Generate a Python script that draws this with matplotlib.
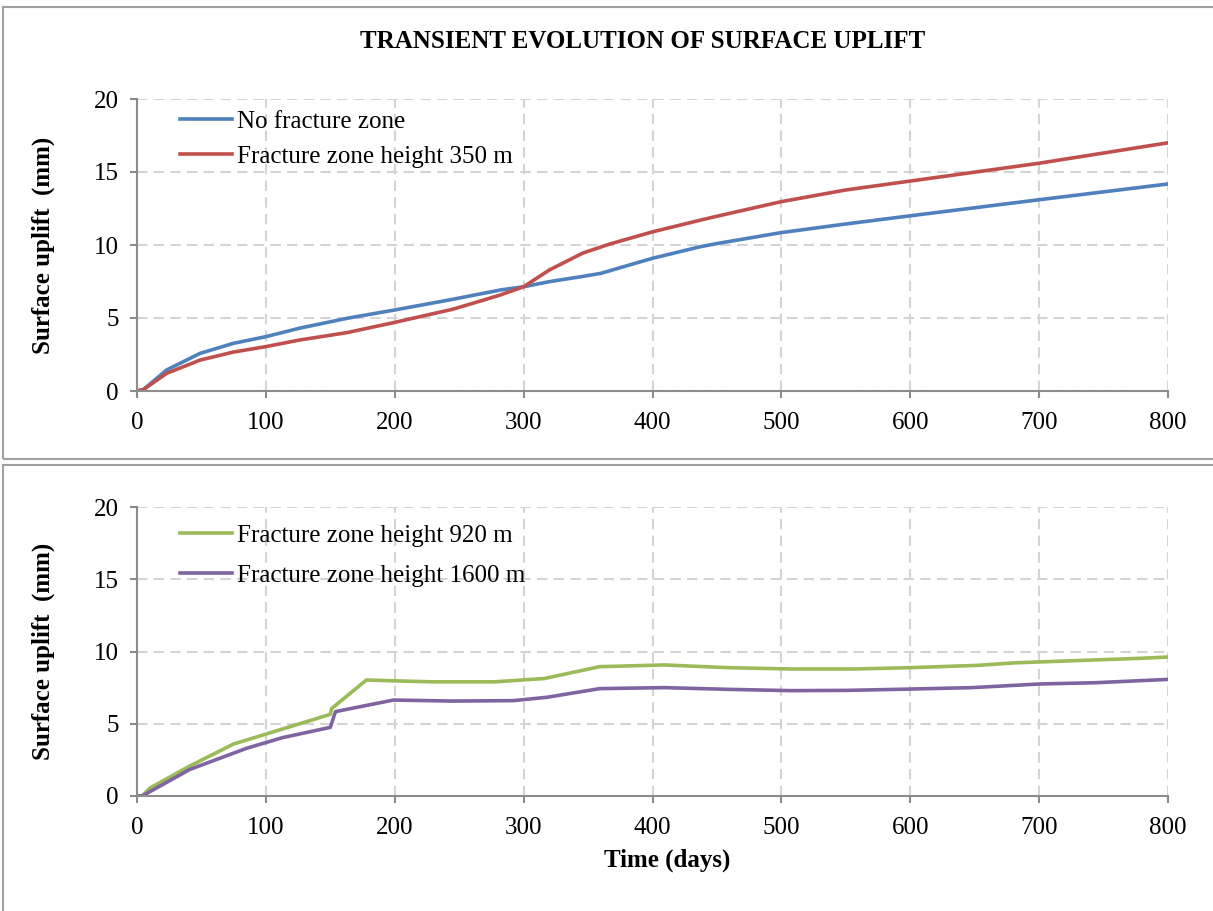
import matplotlib.pyplot as plt
from matplotlib.patches import Rectangle

plt.rcParams['font.family'] = ['Liberation Serif', 'DejaVu Serif']

# Surface uplift (mm) vs time (days)
days_none = [0, 5, 23, 49, 75, 100, 126, 163, 200, 245, 282, 300, 320, 346, 360, 377,
             400, 437, 450, 500, 550, 600, 700, 800]
uplift_none = [0, 0.1, 1.44, 2.58, 3.27, 3.72, 4.3, 4.98, 5.55, 6.28, 6.92, 7.14, 7.49, 7.85,
               8.06, 8.5, 9.09, 9.88, 10.1, 10.85, 11.44, 12.0, 13.1, 14.18]

days_350 = [0, 5, 23, 49, 75, 100, 126, 163, 200, 245, 269, 282, 300, 320, 346, 367,
            400, 437, 450, 500, 550, 600, 700, 800]
uplift_350 = [0, 0.1, 1.21, 2.12, 2.67, 3.04, 3.49, 4.0, 4.7, 5.6, 6.23, 6.58, 7.14, 8.29,
              9.45, 10.07, 10.9, 11.7, 11.97, 12.97, 13.77, 14.38, 15.6, 17.0]

days_920 = [0, 4, 10, 40, 75, 150, 151, 178, 199, 230, 277, 316, 359, 409, 459, 508,
            556, 600, 652, 682, 779, 800]
uplift_920 = [0, 0, 0.55, 2.03, 3.6, 5.65, 6.05, 8.03, 7.97, 7.9, 7.9, 8.13, 8.95, 9.07,
              8.88, 8.79, 8.79, 8.88, 9.04, 9.22, 9.53, 9.62]

days_1600 = [0, 4, 41, 85, 113, 150, 154, 199, 245, 292, 318, 359, 409, 459, 508, 551,
             600, 648, 700, 744, 800]
uplift_1600 = [0, 0, 1.84, 3.3, 4.04, 4.75, 5.84, 6.64, 6.57, 6.6, 6.83, 7.43, 7.5, 7.38,
               7.29, 7.31, 7.4, 7.5, 7.75, 7.84, 8.07]

x_ticks = [0, 100, 200, 300, 400, 500, 600, 700, 800]
y_ticks = [0, 5, 10, 15, 20]

W, H = 1213, 911
fig = plt.figure(figsize=(W / 100, H / 100), dpi=100)

# gray boxes around each chart
fig.patches.append(Rectangle((3 / W, 1 - 459 / H), 1.0, (459 - 7) / H, transform=fig.transFigure,
                             fill=False, edgecolor='#a0a0a0', linewidth=1.5))
fig.patches.append(Rectangle((3 / W, -0.01), 1.0, 1 - 465 / H + 0.01, transform=fig.transFigure,
                             fill=False, edgecolor='#a0a0a0', linewidth=1.5))

left = 137 / W
width = (1168 - 137) / W
ax1 = fig.add_axes([left, 1 - 391 / H, width, (391 - 99) / H])
ax2 = fig.add_axes([left, 1 - 796 / H, width, (796 - 507) / H])


def style_axes(ax):
    ax.set_xlim(0, 800)
    ax.set_ylim(0, 20)
    ax.set_xticks(x_ticks)
    ax.set_yticks(y_ticks)
    for side in ['top', 'right']:
        ax.spines[side].set_visible(False)
    for side in ['left', 'bottom']:
        ax.spines[side].set_color('#8c8c8c')
        ax.spines[side].set_linewidth(1.5)
    ax.tick_params(direction='out', length=5, width=1.5, color='#8c8c8c',
                   labelsize=18, pad=8)
    ax.tick_params(axis='x', pad=10)
    ax.grid(True, color='#d4d4d4', linestyle=(0, (5, 3)), linewidth=1.5)
    ax.set_axisbelow(True)
    ax.set_ylabel('Surface uplift  (mm)', fontsize=18, fontweight='bold', labelpad=28)


ax1.plot(days_none, uplift_none, color='#4F81BD', linewidth=2.6, label='No fracture zone')
ax1.plot(days_350, uplift_350, color='#C0504D', linewidth=2.6, label='Fracture zone height 350 m')
style_axes(ax1)
ax1.legend(loc='upper left', bbox_to_anchor=(0.032, 0.995), frameon=False, fontsize=18,
           handlelength=2.1, handletextpad=0.2, borderaxespad=0, labelspacing=0.5)

ax2.plot(days_920, uplift_920, color='#9BBB59', linewidth=2.6, label='Fracture zone height 920 m')
ax2.plot(days_1600, uplift_1600, color='#8064A2', linewidth=2.6, label='Fracture zone height 1600 m')
style_axes(ax2)
ax2.legend(loc='upper left', bbox_to_anchor=(0.032, 0.975), frameon=False, fontsize=18,
           handlelength=2.1, handletextpad=0.2, borderaxespad=0, labelspacing=0.7)

fig.text(643 / W, 1 - 42 / H, 'TRANSIENT EVOLUTION OF SURFACE UPLIFT', ha='center', va='center',
         fontsize=18, fontweight='bold')
fig.text(667 / W, 1 - 860 / H, 'Time (days)', ha='center', va='center',
         fontsize=18, fontweight='bold')

fig.savefig('out.png', dpi=100)
